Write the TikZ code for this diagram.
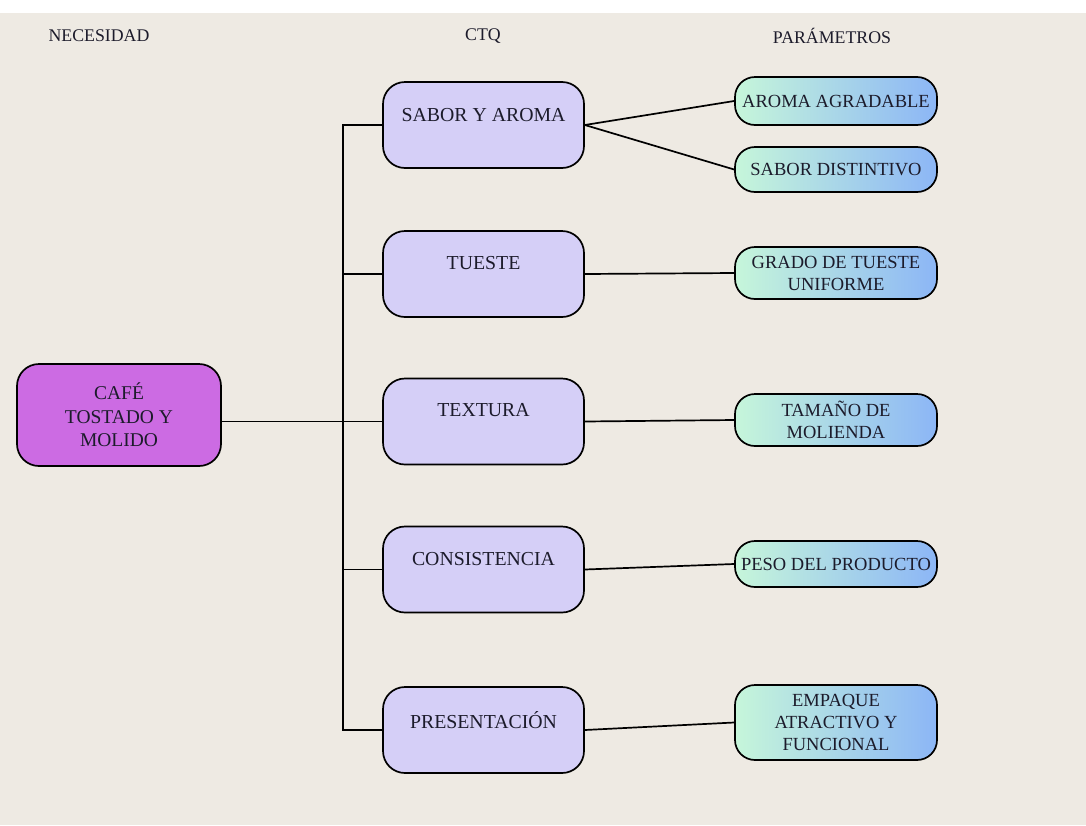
\documentclass[tikz,border=0pt]{standalone}
\usepackage{fontspec}
\setmainfont{Liberation Serif}
\definecolor{paper}{HTML}{EEEAE3}
\definecolor{needfill}{HTML}{CC6BE3}
\definecolor{ctqfill}{HTML}{D5CFF7}
\definecolor{parleft}{HTML}{C6F6DA}
\definecolor{parright}{HTML}{8CB6F6}
\definecolor{ink}{HTML}{1C1B2B}

\begin{document}
\begin{tikzpicture}[x=1pt,y=-1pt,
  box/.style={draw=black, line width=1.7pt, text=ink, align=center, inner sep=0pt},
  need/.style={box, rounded corners=22pt, fill=needfill, minimum width=204pt, minimum height=102pt,
    font=\fontsize{19.5}{23.4}\selectfont},
  ctq/.style={box, rounded corners=22pt, fill=ctqfill, minimum width=201pt, minimum height=86pt},
  ctqtext/.style={text=ink, inner sep=0pt, font=\fontsize{19.8}{23.4}\selectfont},
  param/.style={box, rounded corners=20pt, left color=parleft, right color=parright,
    minimum width=202pt, font=\fontsize{18.5}{22}\selectfont},
  head/.style={text=ink, font=\fontsize{17.8}{21}\selectfont},
  link/.style={line width=1.7pt, draw=black}]

% paper background with a thin white band at the top
\fill[paper] (0,0) rectangle (1086,825);
\fill[white] (0,0) rectangle (1086,12.5);
\useasboundingbox (0,0) rectangle (1086,825);

% column headings
\node[head] (hneed) at (99,36) {NECESIDAD};
\node[head] (hctq) at (483,36) {CTQ};
\node[head] (hpar) at (832,36) {PARÁMETROS};

% need
\node[need] (cafe) at (119,415) {CAFÉ\\TOSTADO Y\\MOLIDO};

% critical-to-quality boxes (text sits in the upper part)
\node[ctq, label={[ctqtext, name=saborT, yshift=10pt]center:SABOR Y AROMA}] (sabor) at (483.5,125) {};
\node[ctq, label={[ctqtext, name=tuesteT, yshift=11pt]center:TUESTE}] (tueste) at (483.5,274) {};
\node[ctq, label={[ctqtext, name=texturaT, yshift=11pt]center:TEXTURA}] (textura) at (483.5,421.5) {};
\node[ctq, label={[ctqtext, name=consT, yshift=10pt]center:CONSISTENCIA}] (consistencia) at (483.5,569.5) {};
\node[ctq, label={[ctqtext, name=presT, yshift=10pt]center:PRESENTACIÓN}] (presentacion) at (483.5,730) {};

% parameters
\node[param, minimum height=48pt] (aroma) at (836,101) {AROMA AGRADABLE};
\node[param, minimum height=45pt] (distintivo) at (836,169.5) {SABOR DISTINTIVO};
\node[param, minimum height=52pt] (grado) at (836,273) {GRADO DE TUESTE\\UNIFORME};
\node[param, minimum height=52pt] (tamano) at (836,420) {TAMAÑO DE\\MOLIENDA};
\node[param, minimum height=46pt] (peso) at (836,564) {PESO DEL PRODUCTO};
\node[param, minimum height=75pt] (empaque) at (836,722.5) {EMPAQUE\\ATRACTIVO Y\\FUNCIONAL};

% trunk joining the need to every CTQ
\coordinate (tx) at (343,0);
\draw[link] (sabor.west) -| (tx |- presentacion.west) -- (presentacion.west);
\draw[link] (tx |- tueste.west) -- (tueste.west);
\draw[link] (tx |- consistencia.west) -- (consistencia.west);
\draw[link] (cafe.east |- textura.west) -- (textura.west);

% CTQ to parameters
\draw[link] (sabor.east) -- (aroma.west);
\draw[link] (sabor.east) -- (distintivo.west);
\draw[link] (tueste.east) -- (grado.west);
\draw[link] (textura.east) -- (tamano.west);
\draw[link] (consistencia.east) -- (peso.west);
\draw[link] (presentacion.east) -- (empaque.west);
\end{tikzpicture}
\end{document}
